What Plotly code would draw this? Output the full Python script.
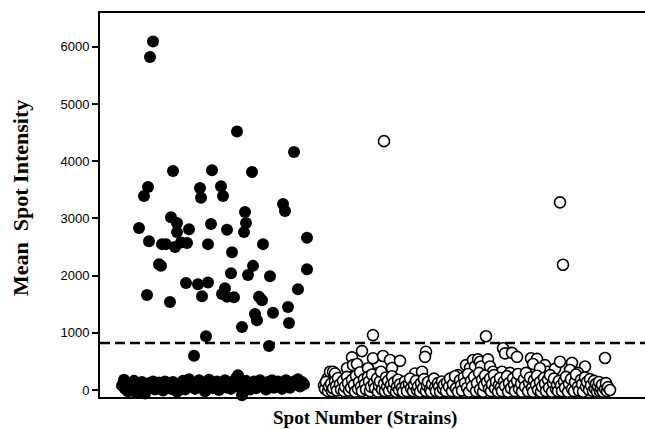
import plotly.graph_objects as go

# ---- data ----
# Filled circles: high-intensity spots (spot number, mean intensity)
filled_hi_x = [53, 50, 137, 194, 73, 112, 152, 48, 44, 100, 101, 121, 123, 183, 185, 145, 146, 144, 71, 77,
               77, 39, 89, 111, 127, 49, 62, 66, 75, 81, 87, 108, 163, 132, 207, 59, 61, 153, 148, 131,
               170, 207, 86, 98, 108, 125, 122, 127, 134, 47, 102, 70, 159, 162, 198, 188, 155, 157, 173, 189,
               142, 106, 94, 169]
filled_hi_y = [6090, 5820, 4520, 4160, 3830, 3840, 3810, 3550, 3390, 3530, 3360, 3560, 3390, 3250, 3130, 3110, 2920, 2760, 3020, 2920,
               2760, 2830, 2810, 2900, 2800, 2600, 2550, 2550, 2500, 2580, 2570, 2550, 2550, 2410, 2660, 2200, 2170, 2170, 2010, 2040,
               1990, 2110, 1870, 1850, 1880, 1780, 1680, 1630, 1620, 1660, 1640, 1540, 1630, 1570, 1760, 1450, 1330, 1220, 1350, 1170,
               1100, 940, 600, 770]

# Filled circles: low-intensity spots
filled_lo_x = [22, 24, 25, 27, 28, 30, 32, 34, 36, 38, 40, 42, 43, 45, 47, 49, 51, 53, 55, 57,
               59, 61, 63, 65, 67, 69, 71, 73, 75, 77, 79, 81, 83, 85, 87, 89, 91, 93, 95, 97,
               99, 101, 103, 105, 107, 109, 111, 113, 115, 117, 119, 121, 123, 125, 127, 129, 131, 133, 135, 136,
               138, 140, 142, 144, 146, 148, 150, 152, 154, 156, 158, 160, 162, 164, 166, 168, 170, 172, 174, 176,
               178, 180, 182, 184, 186, 188, 190, 192, 194, 196, 198, 200, 202, 204]
filled_lo_y = [80, 180, 20, 130, -20, 60, 110, 160, -50, 30, 90, 140, 20, -60, 70, 120, 40, 150, 10, 90,
               130, 30, -10, 150, 60, 110, 20, 140, 70, -30, 100, 40, 160, 10, 90, 190, 60, 120, 20, 80,
               170, 40, 130, -20, 70, 180, 110, 30, 90, 150, 0, 60, 130, 170, 40, 100, 20, 150, 90, 200,
               260, 40, -90, 120, 160, 60, 10, 110, 150, 30, 80, 170, 120, 50, 10, 140, 90, 170, 40, 110,
               150, 60, 20, 130, 170, 80, 40, 120, 150, 100, 190, 60, 140, 100]

# Open circles: spots of the second group
open_x = [284, 460, 463, 273, 386, 505,
          227, 228, 230, 233, 235, 247, 252, 253, 257, 262,
          224, 225, 226, 228, 229, 231, 232, 233, 235, 236, 237, 238, 240, 241, 243, 244, 245, 247, 248, 249,
          251, 252, 254, 255, 256, 258, 259, 260,
          268, 273, 276, 283, 290, 292, 300,
          261, 262, 264, 265, 266, 268, 269, 270, 271, 272, 274, 275, 277, 278, 279, 280, 281, 282, 284, 285,
          286, 287, 288, 289, 291, 292, 293, 294, 296, 297, 298, 299, 300,
          315, 322, 326, 325, 358,
          302, 303, 305, 306, 307, 309, 310, 311, 313, 314, 316, 317, 318, 320, 321, 323, 324, 326, 327, 328,
          330, 331, 332, 334, 335, 336, 338, 339, 340, 342, 343, 344,
          366, 370, 373, 375, 378, 380, 381, 388, 390, 393, 402, 403, 405, 412, 417, 410,
          346, 347, 349, 350, 352, 353, 355, 356, 358, 360, 361, 362, 364, 365, 367, 368, 369, 371, 372, 374,
          376, 377, 379, 380, 382, 383, 384, 385, 387, 389, 390, 391, 392, 394, 395, 396, 398, 399, 400,
          431, 437, 433, 445, 448, 440, 455,
          401, 402, 404, 405, 407, 408, 409, 411, 413, 414, 415, 417, 418, 419, 421, 422, 424, 425, 426, 428,
          429, 430, 432, 433, 434, 436, 437, 438, 440, 441, 442, 444, 445, 446, 448, 449, 450, 452, 453, 454,
          456, 457, 458, 459,
          460, 472, 485, 470, 478,
          461, 462, 464, 465, 466, 468, 469, 471, 472, 474, 475, 476, 478, 479, 481, 482, 483, 485, 486, 487,
          489, 490, 491, 493, 494, 495, 496, 497, 498, 499, 500, 501, 502, 503, 505, 506, 507, 508, 510]
open_y = [4350, 3280, 2190, 960, 940, 560,
          175, 210, 320, 320, 290, 380, 570, 435, 455, 680,
          80, 20, 140, -20, 60, 110, -20, 30, 150, 70, -10, 210, 100, 10, 160, -20, 60, 230, 120, -10,
          40, 180, 90, -30, 250, 20, 140, 310,
          380, 555, 290, 595, 525, 385, 510,
          60, -20, 190, 100, 10, 230, 150, -20, 60, 270, 120, 30, 200, -30, 80, 150, 320, 10, 110, -20,
          220, 60, 160, -10, 90, 240, 20, 130, -30, 60, 180, 0, 100,
          290, 320, 670, 580, 260,
          40, -30, 150, 70, -20, 110, 200, 30, -20, 90, 160, 0, 60, -30, 120, 30, 190, -20, 80, 140,
          10, -30, 100, 200, 40, -20, 120, 60, -30, 150, 20, 90,
          435, 385, 525, 410, 535, 495, 410, 535, 410, 320, 320, 730, 640, 650, 580, 300,
          -20, 130, 60, 200, -20, 100, 240, 30, -30, 170, 80, -10, 220, 120, 40, 280, -30, 160, 60, 230,
          -20, 120, 300, 10, 180, -30, 80, 250, 140, 20, 200, -20, 100, 260, 30, 150, -30, 90, 210,
          555, 545, 455, 435, 320, 380, 370,
          50, -20, 150, 70, 240, -30, 120, 30, 200, 90, -20, 160, 280, 20, 110, -30, 190, 60, 300, -20,
          130, 220, 40, -30, 170, 90, 250, 0, 140, -30, 60, 210, 110, -20, 180, 40, 260, -30, 120, 200,
          20, 90, -20, 160,
          495, 475, 410, 350, 300,
          80, -20, 150, 40, 230, -30, 110, 190, 20, -20, 140, 270, 60, -10, 180, 100, -30, 220, 60, 140,
          0, 190, 80, -20, 160, 20, 110, -30, 60, 140, -20, 30, 90, -30, 20, 120, -20, 50, 0]

threshold = 820
y_ticks = [0, 1000, 2000, 3000, 4000, 5000, 6000]

fig = go.Figure()

fig.add_trace(go.Scatter(
    x=filled_lo_x + filled_hi_x, y=filled_lo_y + filled_hi_y, mode="markers",
    marker=dict(symbol="circle", size=12, color="black", line=dict(width=0)),
    cliponaxis=False, showlegend=False))

fig.add_trace(go.Scatter(
    x=open_x, y=open_y, mode="markers",
    marker=dict(symbol="circle", size=11, color="white", line=dict(width=1.6, color="black")),
    cliponaxis=False, showlegend=False))

fig.add_shape(type="line", xref="paper", yref="y", x0=0, x1=1, y0=threshold, y1=threshold,
              line=dict(color="black", width=2.5, dash="10px,5px"))

fig.update_layout(
    width=645, height=429,
    margin=dict(l=100, r=0, t=13, b=32),
    paper_bgcolor="white", plot_bgcolor="white",
    showlegend=False,
    xaxis=dict(range=[0, 545], showgrid=False, zeroline=False, showticklabels=False,
               ticks="", showline=True, linecolor="black", linewidth=2, mirror=True),
    yaxis=dict(range=[-122, 6590], showgrid=False, zeroline=False,
               tickvals=y_ticks, ticks="outside", ticklen=6, tickwidth=1.5, tickcolor="black",
               showline=True, linecolor="black", linewidth=2, mirror=False,
               tickfont=dict(family="Liberation Sans, Arial, sans-serif", size=13, color="black")),
    annotations=[
        dict(text="<b>Spot Number (Strains)</b>", xref="paper", yref="paper",
             x=0.486, y=-0.055, xanchor="center", yanchor="middle", showarrow=False,
             font=dict(family="Liberation Serif, Times New Roman, serif", size=19, color="black")),
        dict(text="<b>Mean  Spot Intensity</b>", xref="paper", yref="paper",
             x=-0.147, y=0.518, xanchor="center", yanchor="middle", showarrow=False, textangle=-90,
             font=dict(family="Liberation Serif, Times New Roman, serif", size=22, color="black")),
    ],
)

fig.write_html("out.html",
               config={"displayModeBar": False},
               post_script="document.body.style.margin='0';document.body.style.overflow='hidden';")
